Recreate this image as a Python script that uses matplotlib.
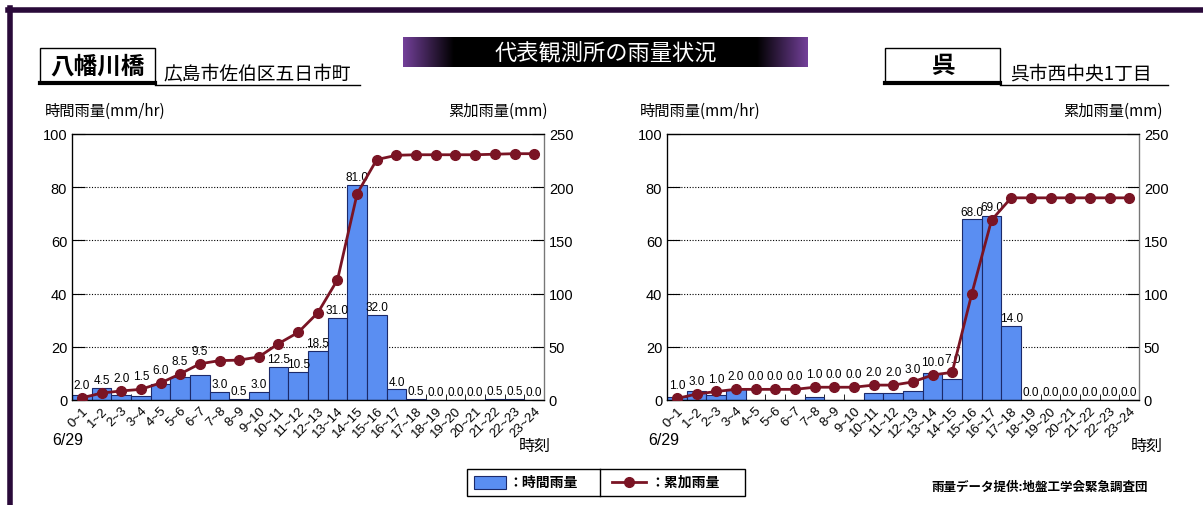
import numpy as np
import matplotlib
matplotlib.use("Agg")
import matplotlib.pyplot as plt
from matplotlib.patches import Rectangle
from matplotlib.lines import Line2D

plt.rcParams['font.family'] = ['Noto Sans CJK JP', 'DejaVu Sans']

# data
hours = ['0~1', '1~2', '2~3', '3~4', '4~5', '5~6', '6~7', '7~8', '8~9', '9~10',
         '10~11', '11~12', '12~13', '13~14', '14~15', '15~16', '16~17', '17~18',
         '18~19', '19~20', '20~21', '21~22', '22~23', '23~24']

# 八幡川橋
yahata_hourly = [2.0, 4.5, 2.0, 1.5, 6.0, 8.5, 9.5, 3.0, 0.5, 3.0, 12.5, 10.5,
                 18.5, 31.0, 81.0, 32.0, 4.0, 0.5, 0.0, 0.0, 0.0, 0.5, 0.5, 0.0]
yahata_cum = [2, 6.5, 8.5, 10, 16, 24.5, 34, 37, 37.5, 40.5, 53, 63.5, 82, 113,
              194, 226, 230, 230.5, 230.5, 230.5, 230.5, 231, 231.5, 231.5]

# 呉 (bar heights as drawn, labels as printed)
kure_bar = [1, 3.5, 2, 4, 0, 0, 0, 1, 0, 0, 2.5, 2.5, 3.5, 10, 8, 68, 69, 28,
            0, 0, 0, 0, 0, 0]
kure_hourly = [1.0, 3.0, 1.0, 2.0, 0.0, 0.0, 0.0, 1.0, 0.0, 0.0, 2.0, 2.0, 3.0,
               10.0, 7.0, 68.0, 69.0, 14.0, 0.0, 0.0, 0.0, 0.0, 0.0, 0.0]
kure_cum = [1.5, 5.5, 8, 10, 10, 10, 10, 12, 12, 12, 14, 14, 17, 23.5, 26, 100,
            169, 190, 190, 190, 190, 190, 190, 190]

W, H = 1203, 506
fig = plt.figure(figsize=(W / 100, H / 100), dpi=100)

BAR = '#5a8ef2'
LINE = '#7a1424'
NUM = 'Liberation Sans'


def px(x, y):
    return x / W, 1 - y / H


def draw_chart(left, hourly_bar, labels, cum):
    ax = fig.add_axes([left / W, 1 - 401 / H, 472 / W, 266 / H])
    x = np.arange(len(hours))
    ax.bar(x, hourly_bar, width=1.0, color=BAR, edgecolor='#1c2a6a', linewidth=0.8, zorder=2)
    for xi, h, v, c in zip(x, hourly_bar, labels, cum):
        # lift the label over the line marker when they would collide
        pt = c / 2.5
        y = h
        if -1.5 <= pt - h <= 6:
            y = max(h, pt + 2)
        ax.text(xi, y + 0.6, '%.1f' % v, ha='center', va='bottom', fontsize=8.5,
                family=NUM, zorder=5)
    ax.set_xlim(-0.5, 23.5)
    ax.set_ylim(0, 100)
    ax.set_yticks([0, 20, 40, 60, 80, 100])
    ax.set_xticks(x)
    ax.set_xticklabels(hours, rotation=45, ha='right', rotation_mode='anchor',
                       fontsize=9.5, family=NUM)
    ax.set_xticks(np.arange(-0.5, 24, 1), minor=True)
    ax.tick_params(axis='x', which='major', length=0, pad=3)
    ax.tick_params(axis='x', which='minor', direction='in', length=4)
    ax.tick_params(axis='y', direction='in', length=9, labelsize=10.5)
    for t in ax.get_yticklabels():
        t.set_family(NUM)
    for yv in [20, 40, 60, 80]:
        ax.axhline(yv, color='black', lw=0.8, ls=(0, (1, 1.5)), zorder=1)
    for s in ax.spines.values():
        s.set_linewidth(0.9)
    ax.spines['right'].set_color('#777777')

    ax2 = ax.twinx()
    ax2.set_ylim(0, 250)
    ax2.set_yticks([0, 50, 100, 150, 200, 250])
    ax2.tick_params(axis='y', direction='in', length=9, labelsize=10.5)
    for t in ax2.get_yticklabels():
        t.set_family(NUM)
    ax2.plot(x, cum, color=LINE, lw=2, marker='o', ms=7, zorder=4)
    ax2.spines['right'].set_color('#777777')
    return ax


draw_chart(72, yahata_hourly, yahata_hourly, yahata_cum)
draw_chart(667, kure_bar, kure_hourly, kure_cum)

# frame
fig.add_artist(Line2D([8 / W, 1], [1 - 11 / H, 1 - 11 / H], color='#2a0a3a', lw=4))
fig.add_artist(Line2D([10 / W, 10 / W], [0, 1 - 9 / H], color='#2a0a3a', lw=4))

# title banner
bax = fig.add_axes([403 / W, 1 - 68 / H, 405 / W, 30 / H])
g = np.linspace(-1, 1, 400)
alpha = np.clip((np.abs(g) - 0.75) / 0.25, 0, 1)
img = np.zeros((1, 400, 3))
img[0, :, 0] = 0.45 * alpha
img[0, :, 1] = 0.25 * alpha
img[0, :, 2] = 0.6 * alpha
bax.imshow(img, aspect='auto', extent=[0, 1, 0, 1])
bax.axis('off')
bax.text(0.5, 0.5, '代表観測所の雨量状況', color='white', fontsize=16,
         ha='center', va='center')


# station headers
def station(x0, x1, name, addr, ax0, ax1):
    fig.add_artist(Rectangle(px(x0, 83), (x1 - x0) / W, 34 / H, fill=False,
                             edgecolor='black', lw=1))
    fig.add_artist(Line2D([x0 / W, x1 / W], [1 - 84 / H] * 2, color='black', lw=3))
    fig.text(*px((x0 + x1) / 2, 66), name, fontsize=17, fontweight='bold',
             ha='center', va='center')
    fig.text(*px(ax0, 74), addr, fontsize=13.5, ha='left', va='center')
    fig.add_artist(Line2D([x1 / W, ax1 / W], [1 - 86 / H] * 2, color='black', lw=1))


station(40, 155, '八幡川橋', '広島市佐伯区五日市町', 163, 360)
station(885, 1000, '呉', '呉市西中央1丁目', 1010, 1168)

# axis captions
for xl, xr in [(45, 548), (640, 1163)]:
    fig.text(*px(xl, 111), '時間雨量(mm/hr)', fontsize=11, ha='left', va='center')
    fig.text(*px(xr, 111), '累加雨量(mm)', fontsize=11, ha='right', va='center')
for xd, xt in [(52, 441), (648, 441)]:
    fig.text(*px(xd, xt), '6/29', fontsize=11.5, ha='left', va='center', family=NUM)
for xt in [535, 1147]:
    fig.text(*px(xt, 446), '時刻', fontsize=11.5, ha='center', va='center')

# legend
fig.add_artist(Rectangle(px(467, 497), 278 / W, 27 / H, fill=False, edgecolor='black', lw=1))
fig.add_artist(Line2D([600 / W, 600 / W], [1 - 497 / H, 1 - 470 / H], color='black', lw=1))
fig.add_artist(Rectangle(px(474, 490), 32 / W, 13 / H, facecolor=BAR, edgecolor='#1c2a6a', lw=0.8))
fig.text(*px(508, 483), '：時間雨量', fontsize=10, fontweight='bold', ha='left', va='center')
fig.add_artist(Line2D([612 / W, 646 / W], [1 - 483 / H] * 2, color=LINE, lw=2))
fig.add_artist(Line2D([629 / W], [1 - 483 / H], color=LINE, marker='o', ms=7))
fig.text(*px(650, 483), '：累加雨量', fontsize=10, fontweight='bold', ha='left', va='center')

fig.text(*px(1040, 487), '雨量データ提供:地盤工学会緊急調査団', fontsize=9,
         fontweight='bold', ha='center', va='center')

fig.savefig('out.png', dpi=100)
